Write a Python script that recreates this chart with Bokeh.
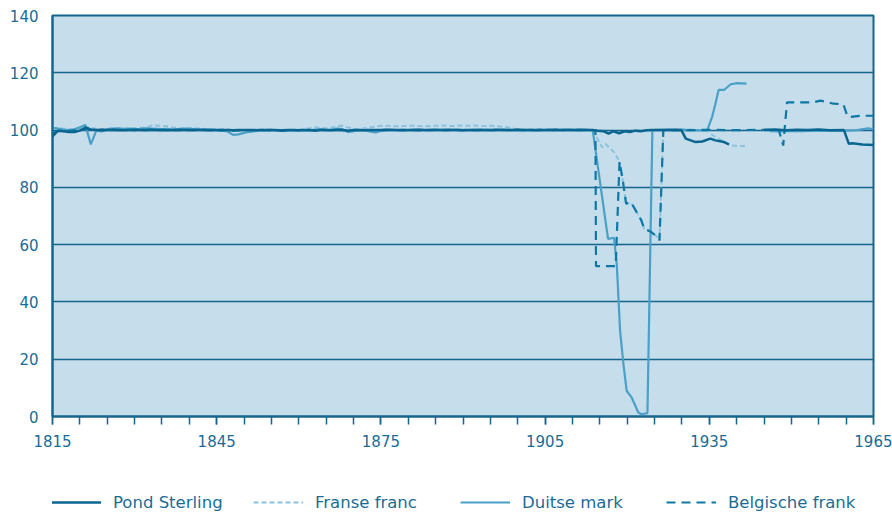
from bokeh.plotting import figure
from bokeh.models import Range1d, FixedTicker, Legend, LegendItem
from bokeh.layouts import column
from bokeh.embed import file_html
from bokeh.resources import INLINE

nan = float("nan")

# ---------------- data ----------------
x_label_years = [1815, 1845, 1875, 1905, 1935, 1965]
x_minor_years = list(range(1815, 1966, 5))
y_ticks = [0, 20, 40, 60, 80, 100, 120, 140]

years_1815_1913 = list(range(1815, 1914))

pound_1815_1913 = [
    97.8, 99.8, 99.6, 99.3, 99.3, 99.8, 100.9, 100.2, 100.0, 100.1,
    100.0, 100.1, 100.0, 99.9, 100.0, 100.1, 100.0, 100.0, 100.1, 100.0,
    100.0, 99.9, 100.0, 100.1, 100.0, 100.0, 100.0, 100.1, 100.0, 99.9,
    100.0, 100.0, 100.0, 99.9, 100.0, 100.0, 100.0, 99.9, 100.0, 100.0,
    100.0, 99.9, 99.8, 100.0, 100.0, 99.9, 100.0, 100.0, 99.8, 100.0,
    100.0, 99.9, 100.0, 100.0, 99.8, 100.0, 100.0, 99.9, 100.0, 100.0,
    100.0, 100.1, 100.0, 100.0, 99.9, 100.0, 100.0, 100.1, 100.0, 100.0,
    100.0, 100.0, 100.1, 100.0, 100.0, 99.9, 100.0, 100.0, 100.1, 100.0,
    100.0, 100.1, 100.0, 100.0, 100.0, 100.1, 100.0, 100.0, 99.9, 100.0,
    100.0, 100.0, 100.1, 100.0, 100.0, 100.0, 100.1, 100.0, 100.0,
]
pound_later_years = [1913.7, 1914.6, 1915.6, 1916.6, 1917.5, 1918.5, 1919.5, 1920.5, 1921.5,
                     1922.5, 1923.5, 1924.5, 1926, 1928, 1929.9, 1930.7, 1932.5, 1933.7,
                     1935.2, 1936.1, 1937.7, 1938.6, 1941, 1945, 1947, 1949, 1951, 1953,
                     1955, 1957, 1959.6, 1960.5, 1961.1, 1963, 1965]
pound_later_vals = [100.0, 99.8, 99.6, 98.8, 99.6, 98.9, 99.6, 99.3, 99.8,
                    99.6, 99.9, 100.0, 100.0, 100.1, 100.0, 97.0, 95.8, 96.0,
                    97.0, 96.4, 95.8, 95.0, nan, 100.0, 100.2, 99.9, 100.1, 100.0,
                    100.2, 99.9, 100.0, 95.2, 95.4, 95.0, 94.8]

franc_1815_1913 = [
    100.5, 100.8, 100.5, 100.3, 100.2, 100.5, 101.2, 100.8, 100.5, 100.3,
    100.4, 100.6, 100.5, 100.4, 100.6, 100.7, 100.8, 100.8, 101.5, 101.6,
    101.5, 101.3, 100.9, 100.6, 100.5, 100.7, 100.6, 100.5, 100.4, 100.3,
    100.4, 100.3, 100.2, 100.0, 99.8, 99.7, 99.8, 100.0, 100.1, 100.2,
    100.1, 100.2, 100.0, 99.9, 100.1, 100.2, 100.3, 100.6, 101.0, 100.8,
    100.6, 100.8, 101.4, 101.5, 100.9, 100.5, 100.3, 100.6, 100.9, 101.2,
    101.5, 101.5, 101.4, 101.3, 101.4, 101.5, 101.5, 101.4, 101.3, 101.4,
    101.5, 101.6, 101.5, 101.4, 101.5, 101.6, 101.5, 101.6, 101.5, 101.4,
    101.5, 101.4, 101.2, 101.0, 100.6, 100.3, 100.2, 100.3, 100.2, 100.4,
    100.3, 100.2, 100.3, 100.4, 100.2, 100.3, 100.2, 100.3, 100.2,
]
franc_later_years = [1913.7, 1915.4, 1916.0, 1917.6, 1918.5, 1919.2, 1919.8, 1920.7, 1922.6,
                     1923.1, 1924.4, 1925.6, 1925.9, 1926.6, 1928, 1930, 1932, 1934.6,
                     1935.2, 1936.7, 1938.9, 1941.8]
franc_later_vals = [100.0, 94.0, 95.2, 92.3, 89.4, 82.4, 74.3, 74.8, 68.4,
                    65.6, 64.4, 62.6, 61.5, 100.0, 100.2, 100.3, 100.1, 99.9,
                    98.7, 97.0, 94.6, 94.3]

mark_1815_1913 = [
    100.8, 100.5, 100.2, 100.0, 100.3, 101.0, 101.8, 95.0, 99.8, 99.5,
    100.3, 100.5, 100.6, 100.4, 100.5, 100.3, 100.4, 100.6, 100.5, 100.4,
    100.3, 100.4, 100.2, 100.3, 100.5, 100.4, 100.3, 100.1, 100.2, 100.3,
    100.0, 99.8, 99.5, 98.3, 98.5, 99.0, 99.4, 99.6, 99.8, 100.0,
    100.1, 100.0, 99.8, 99.7, 99.9, 100.0, 99.8, 99.9, 100.2, 100.3,
    100.0, 100.2, 100.5, 100.3, 99.3, 99.6, 100.0, 99.9, 99.5, 99.2,
    99.7, 100.0, 100.2, 100.0, 100.1, 100.0, 100.2, 100.1, 100.0, 100.1,
    100.2, 100.1, 100.0, 100.1, 100.2, 100.1, 100.0, 100.1, 100.0, 100.1,
    100.0, 100.1, 100.2, 100.1, 100.0, 100.1, 100.0, 100.1, 100.0, 100.1,
    100.0, 100.1, 100.0, 100.0, 100.1, 100.0, 100.0, 100.1, 100.0,
]
mark_later_years = [1913.7, 1916.5, 1917.6, 1918.1, 1918.7, 1919.3, 1919.9, 1920.8, 1922.0,
                    1922.6, 1923.7, 1924.6, 1926, 1928, 1930, 1932, 1934.6, 1935.5,
                    1936.1, 1936.7, 1937.7, 1938.9, 1940.1, 1941.8, 1943, 1946, 1948,
                    1950, 1952, 1954, 1956, 1958, 1960, 1962, 1964, 1965]
mark_later_vals = [100.0, 62.0, 62.4, 53.0, 30.0, 18.5, 9.0, 6.7, 1.5,
                   0.8, 1.2, 100.0, 100.1, 100.0, 100.1, 100.0, 99.8, 104.5,
                   109.0, 114.0, 114.0, 116.0, 116.4, 116.2, nan, 99.6, 99.5,
                   99.7, 99.6, 99.8, 99.7, 99.9, 99.8, 100.0, 100.6, 100.3]

belg_1815_1913 = [
    99.0, 99.6, 99.8, 99.7, 99.9, 100.0, 100.4, 100.1, 100.0, 99.9,
    100.0, 100.1, 100.0, 100.0, 100.1, 100.0, 99.9, 100.0, 100.1, 100.0,
    100.0, 100.1, 100.0, 100.0, 99.9, 100.0, 100.0, 100.1, 100.0, 100.0,
    100.0, 99.9, 100.0, 99.8, 99.9, 100.0, 100.0, 100.1, 100.0, 100.0,
    99.9, 100.0, 100.0, 100.1, 100.0, 100.0, 99.9, 100.0, 100.0, 100.1,
    100.0, 100.0, 100.1, 100.0, 99.9, 100.0, 100.0, 100.1, 100.0, 100.0,
    100.0, 100.1, 100.0, 100.0, 100.1, 100.0, 100.0, 99.9, 100.0, 100.0,
    100.1, 100.0, 100.0, 100.1, 100.0, 100.0, 100.1, 100.0, 100.0, 100.1,
    100.0, 100.0, 100.1, 100.0, 100.0, 100.1, 100.0, 100.0, 100.1, 100.0,
    100.0, 100.1, 100.0, 100.0, 100.1, 100.0, 100.0, 100.1, 100.0,
]
belg_later_years = [1913.8, 1914.2, 1914.3, 1917.9, 1918.6, 1919.2, 1919.8, 1920.7, 1922.6,
                    1923.1, 1924.4, 1925.6, 1925.9, 1926.6, 1929, 1932, 1935, 1938,
                    1941, 1944, 1947.7, 1948.5, 1949.2, 1954.1, 1955.3, 1956.5, 1957.7,
                    1959.5, 1960.2, 1960.5, 1962.6, 1965]
belg_later_vals = [100.0, 100.0, 52.5, 52.5, 89.0, 82.4, 74.3, 74.8, 68.4,
                   65.6, 64.4, 62.6, 61.5, 100.0, 100.0, 100.0, 100.1, 100.0,
                   100.0, 100.1, 100.0, 94.6, 109.7, 109.7, 110.3, 109.8, 109.2,
                   109.0, 105.0, 104.5, 105.0, 105.0]

series_keys = ["pound", "franc", "mark", "belg"]
series_names = ["Pond Sterling", "Franse franc", "Duitse mark", "Belgische frank"]

# ---------------- styles ----------------
BG = "#c6ddec"
AX = "#16668c"
TXT = "#1a6c96"
C_POUND = "#0a6690"
C_FRANC = "#8cc2de"
C_MARK = "#4aa0c6"
C_BELG = "#0e78a4"
FONT = "DejaVu Sans"

STYLE = {
    "pound": dict(line_color=C_POUND, line_width=2.5),
    "franc": dict(line_color=C_FRANC, line_width=2, line_dash="5 3"),
    "mark": dict(line_color=C_MARK, line_width=2.2),
    "belg": dict(line_color=C_BELG, line_width=2.2, line_dash="9 6"),
}
# legend entry left edges (px from frame left)
LEGEND_X = [-1, 201, 408, 614]

p = figure(width=892, height=470, output_backend="svg", toolbar_location=None,
           x_range=Range1d(1815, 1965), y_range=Range1d(0, 140),
           min_border_left=52, min_border_right=19, min_border_top=15, min_border_bottom=54)
p.background_fill_color = BG
p.border_fill_color = "white"
p.outline_line_color = AX
p.outline_line_width = 2

p.xgrid.visible = False
p.ygrid.ticker = FixedTicker(ticks=y_ticks)
p.ygrid.grid_line_color = AX
p.ygrid.grid_line_width = 1.5

p.xaxis.ticker = FixedTicker(ticks=x_label_years, minor_ticks=x_minor_years)
p.yaxis.ticker = FixedTicker(ticks=y_ticks)

for ax in (p.xaxis[0], p.yaxis[0]):
    ax.axis_line_color = AX
    ax.axis_line_width = 2
    ax.major_tick_line_color = AX
    ax.minor_tick_line_color = AX
    ax.major_tick_line_width = 1.5
    ax.minor_tick_line_width = 1.5
    ax.major_tick_in = 0
    ax.minor_tick_in = 0
    ax.major_label_text_font = FONT
    ax.major_label_text_font_size = "15px"
    ax.major_label_text_color = TXT

p.xaxis.major_tick_out = 8
p.xaxis.minor_tick_out = 8
p.xaxis.major_label_standoff = 10
p.yaxis.major_tick_out = 0
p.yaxis.minor_tick_out = 0
p.yaxis.major_label_standoff = 14

p.line(years_1815_1913 + franc_later_years, franc_1815_1913 + franc_later_vals, **STYLE["franc"])
p.line(years_1815_1913 + mark_later_years, mark_1815_1913 + mark_later_vals, **STYLE["mark"])
p.line(years_1815_1913 + belg_later_years, belg_1815_1913 + belg_later_vals, **STYLE["belg"])
p.line(years_1815_1913 + pound_later_years, pound_1815_1913 + pound_later_vals, **STYLE["pound"])

# ---------------- legend strip ----------------
lg = figure(width=892, height=44, output_backend="svg", toolbar_location=None,
            x_range=Range1d(0, 10), y_range=Range1d(0, 10),
            x_axis_type=None, y_axis_type=None, min_border=0)
lg.outline_line_color = None
lg.background_fill_color = "white"
lg.border_fill_color = "white"

for key, name, lx in zip(series_keys, series_names, LEGEND_X):
    # sample renderer kept outside the visible range; only its legend swatch shows
    r = lg.line([-20, -10], [-20, -20], **STYLE[key])
    leg = Legend(items=[LegendItem(label=name, renderers=[r])],
                 orientation="horizontal", location=(lx, 2))
    leg.border_line_color = None
    leg.background_fill_alpha = 0
    leg.padding = 0
    leg.margin = 0
    leg.glyph_width = 50
    leg.glyph_height = 20
    leg.label_height = 20
    leg.label_standoff = 12
    leg.label_text_font = FONT
    leg.label_text_font_size = "16.5px"
    leg.label_text_color = TXT
    lg.add_layout(leg, "center")

layout = column(p, lg, spacing=0)
open("out.html", "w").write(file_html(layout, INLINE))
